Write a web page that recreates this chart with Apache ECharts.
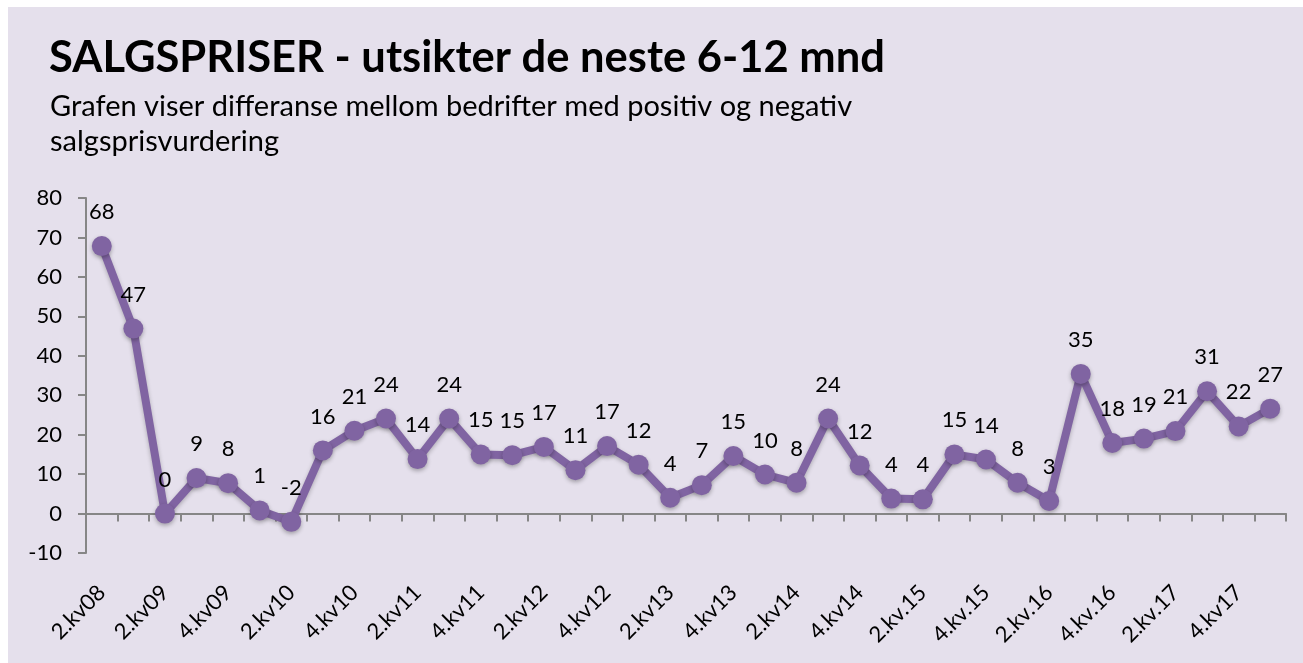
<!DOCTYPE html>
<html>
<head>
<meta charset="utf-8">
<script src="https://cdn.jsdelivr.net/npm/echarts@6/dist/echarts.min.js"></script>
<style>
  html, body { margin: 0; padding: 0; background: #fff; }
  #chart { position: absolute; left: 8px; top: 7px; width: 1295px; height: 656px; background: #e5e0ec; }
</style>
</head>
<body>
<div id="chart"></div>
<script>
// quarters, only every second one gets a label on the axis
const quarters = [
  '2.kv08', '4.kv08', '2.kv09', '3.kv09', '4.kv09', '1.kv10', '2.kv10', '3.kv10', '4.kv10',
  '1.kv11', '2.kv11', '3.kv11', '4.kv11', '1.kv12', '2.kv12', '3.kv12', '4.kv12',
  '1.kv13', '2.kv13', '3.kv13', '4.kv13', '1.kv14', '2.kv14', '3.kv14', '4.kv14',
  '1.kv.15', '2.kv.15', '3.kv.15', '4.kv.15', '1.kv.16', '2.kv.16', '3.kv.16', '4.kv.16',
  '1.kv.17', '2.kv.17', '3.kv.17', '4.kv17', '1.kv18'
]
// net balance (positive minus negative)
const salgspris = [
  67.8, 46.9, 0, 9.0, 7.7, 0.8, -2.1, 16.0, 21.0,
  24.1, 13.8, 24.1, 15.0, 14.8, 16.9, 11.0, 17.1,
  12.4, 4.0, 7.2, 14.6, 9.9, 7.8, 24.1, 12.2,
  3.8, 3.6, 15.0, 13.7, 7.8, 3.2, 35.4, 17.9,
  19.0, 20.9, 31.0, 22.1, 26.6
]
const yTicks = { min: -10, max: 80, step: 10 }

const font = 'Lato, "Open Sans", sans-serif'
const purple = '#8064a2'

const chart = echarts.init(document.getElementById('chart'))
chart.setOption({
  animation: false,
  title: [
    { text: 'SALGSPRISER - utsikter de neste 6-12 mnd', left: 36, top: 23.5,
      textStyle: { fontFamily: font, fontSize: 43.5, fontWeight: 'bold', color: '#000' } },
    { text: 'Grafen viser differanse mellom bedrifter med positiv og negativ\nsalgsprisvurdering', left: 37, top: 77,
      textStyle: { fontFamily: font, fontSize: 29, fontWeight: 'normal', color: '#000', lineHeight: 35 } }
  ],
  grid: { left: 78, top: 191, width: 1200, height: 355 },
  xAxis: [
    { type: 'category', data: quarters, boundaryGap: true,
      axisLine: { onZero: true, lineStyle: { color: '#868686', width: 2 } },
      axisTick: { show: true, length: 8, interval: 0, lineStyle: { color: '#868686', width: 2 } },
      axisLabel: { show: false }, splitLine: { show: false } },
    { type: 'category', data: quarters, boundaryGap: true, position: 'bottom',
      axisLine: { show: false }, axisTick: { show: false },
      axisLabel: { interval: 1, rotate: 45, margin: 36, fontFamily: font, fontSize: 22, color: '#000' } }
  ],
  yAxis: {
    type: 'value', min: yTicks.min, max: yTicks.max, interval: yTicks.step,
    axisLine: { show: true, lineStyle: { color: '#868686', width: 2 } },
    axisTick: { show: true, length: 8, lineStyle: { color: '#868686', width: 2 } },
    axisLabel: { margin: 24, fontFamily: font, fontSize: 22, color: '#000' },
    splitLine: { show: false }
  },
  series: [{
    type: 'line', xAxisIndex: 0, data: salgspris,
    symbol: 'circle', symbolSize: 20,
    lineStyle: { color: purple, width: 8, shadowColor: 'rgba(0,0,0,0.25)', shadowBlur: 4, shadowOffsetY: 2 },
    itemStyle: { color: purple, shadowColor: 'rgba(0,0,0,0.3)', shadowBlur: 4, shadowOffsetY: 2 },
    label: { show: true, position: 'top', distance: 13, fontFamily: font, fontSize: 22, color: '#000',
      formatter: p => Math.round(p.value) }
  }]
})
</script>
</body>
</html>
